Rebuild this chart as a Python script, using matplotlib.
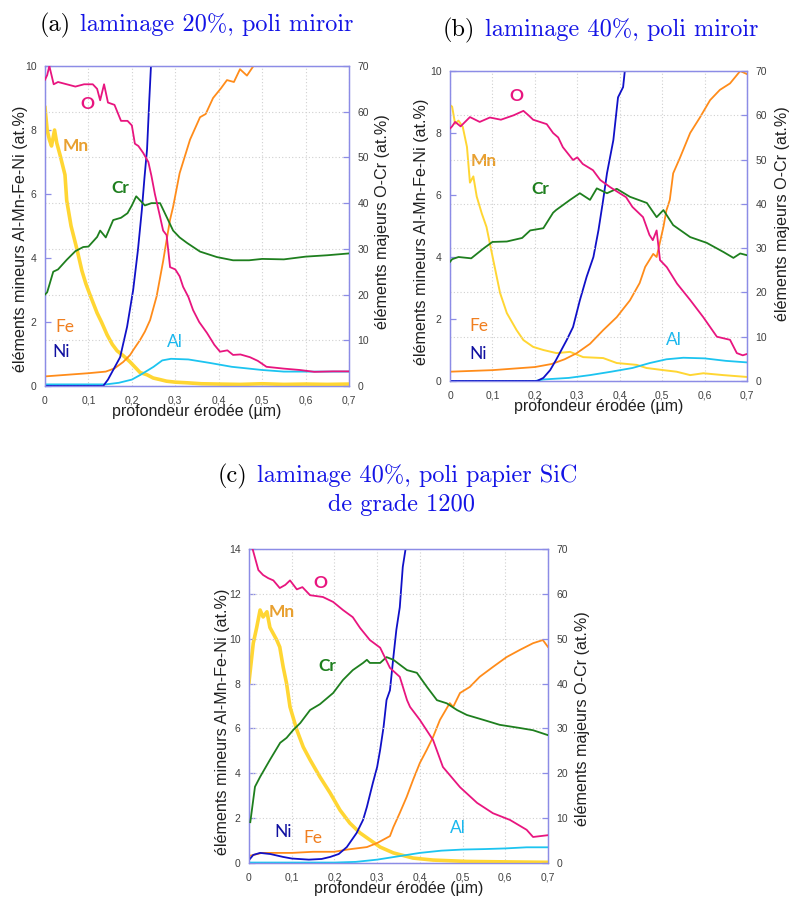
import matplotlib
matplotlib.use("Agg")
import matplotlib.pyplot as plt
from matplotlib.ticker import FuncFormatter, MultipleLocator

# ---------------- data: panel (a) laminage 20%, poli miroir ----------------
xa_O = [0, 0.005, 0.01, 0.02, 0.03, 0.05, 0.07, 0.09, 0.11, 0.12, 0.127, 0.136, 0.145, 0.16, 0.175, 0.19, 0.2, 0.207, 0.215, 0.226,
        0.238, 0.245, 0.253, 0.265, 0.272, 0.28, 0.288, 0.3, 0.31, 0.318, 0.33, 0.341, 0.355, 0.373, 0.39, 0.403, 0.42, 0.433, 0.45, 0.472,
        0.49, 0.51, 0.55, 0.587, 0.62, 0.663, 0.7]
ya_O = [67, 68, 70, 66, 66.5, 66, 65.5, 66, 66, 65, 62.5, 66, 62, 61.5, 58, 58, 57, 53, 52.5, 51,
        49, 46, 42, 37, 34, 33, 26, 25.5, 24, 21.7, 19.5, 16.6, 14, 11.6, 9, 7.5, 7.8, 6.8, 6.9, 6.3,
        5.5, 4.2, 3.8, 3.5, 3.1, 3.2, 3.2]
xa_Cr = [0, 0.005, 0.019, 0.03, 0.05, 0.07, 0.088, 0.1, 0.12, 0.127, 0.14, 0.157, 0.175, 0.19, 0.2, 0.21, 0.22, 0.23, 0.245, 0.265,
         0.28, 0.295, 0.31, 0.327, 0.357, 0.396, 0.433, 0.47, 0.5, 0.55, 0.6, 0.65, 0.7]
ya_Cr = [20, 20.5, 25, 25.5, 27.6, 29.5, 30.4, 30.5, 32.6, 34, 32.5, 36.3, 36.8, 37.8, 39.5, 41.5, 40.5, 39.5, 40, 40,
         37, 34, 32.5, 31.3, 29.4, 28.2, 27.5, 27.5, 27.8, 27.7, 28.3, 28.6, 29]
xa_Mn = [0, 0.005, 0.01, 0.015, 0.022, 0.027, 0.035, 0.046, 0.05, 0.06, 0.074, 0.085, 0.094, 0.105, 0.12, 0.13, 0.143, 0.155, 0.166, 0.18,
         0.196, 0.21, 0.219, 0.235, 0.249, 0.265, 0.28, 0.3, 0.327, 0.36, 0.4, 0.45, 0.5, 0.55, 0.6, 0.65, 0.7]
ya_Mn = [8.7, 8.0, 7.7, 7.5, 8.0, 7.6, 7.2, 6.6, 5.8, 5.0, 4.25, 3.6, 3.2, 2.8, 2.28, 2.0, 1.6, 1.3, 1.1, 0.95,
         0.75, 0.55, 0.42, 0.35, 0.25, 0.2, 0.15, 0.12, 0.1, 0.07, 0.06, 0.05, 0.07, 0.05, 0.06, 0.05, 0.06]
xa_Ni = [0, 0.134, 0.145, 0.157, 0.173, 0.189, 0.203, 0.214, 0.223, 0.229, 0.235, 0.24, 0.244, 0.25]
ya_Ni = [0, 0, 0.2, 0.5, 0.9, 1.85, 3.0, 4.25, 5.5, 6.5, 7.4, 8.9, 10.0, 11.5]
xa_Fe = [0, 0.05, 0.1, 0.14, 0.16, 0.18, 0.196, 0.203, 0.219, 0.23, 0.242, 0.257, 0.272, 0.28, 0.288, 0.295, 0.31, 0.334, 0.357, 0.37,
         0.387, 0.405, 0.419, 0.435, 0.449, 0.465, 0.48, 0.49]
ya_Fe = [0.3, 0.35, 0.4, 0.45, 0.55, 0.75, 0.97, 1.12, 1.44, 1.7, 2.06, 2.8, 3.9, 4.56, 5.2, 5.6, 6.65, 7.7, 8.4, 8.5,
         9.0, 9.3, 9.56, 9.5, 9.9, 9.7, 10.0, 10.2]
xa_Al = [0, 0.14, 0.17, 0.2, 0.22, 0.25, 0.27, 0.29, 0.33, 0.38, 0.43, 0.5, 0.55, 0.6, 0.65, 0.7]
ya_Al = [0.05, 0.05, 0.1, 0.2, 0.35, 0.6, 0.8, 0.85, 0.83, 0.72, 0.6, 0.5, 0.45, 0.45, 0.45, 0.45]

# ---------------- data: panel (b) laminage 40%, poli miroir ----------------
xb_O = [0, 0.005, 0.012, 0.025, 0.047, 0.07, 0.094, 0.12, 0.15, 0.173, 0.185, 0.196, 0.228, 0.243, 0.255, 0.266, 0.29, 0.3, 0.313, 0.337,
        0.354, 0.377, 0.4, 0.415, 0.43, 0.455, 0.47, 0.478, 0.487, 0.495, 0.511, 0.535, 0.566, 0.597, 0.629, 0.66, 0.676, 0.69, 0.7]
yb_O = [57, 57.5, 58.5, 57.5, 59.6, 58.5, 59.5, 59, 60, 61, 60, 59, 58, 56, 55, 52.8, 49.9, 50.5, 49, 47.6,
        45.4, 43.8, 42.4, 41.5, 39.3, 37, 33, 31.8, 34, 27.3, 25.7, 22, 18.3, 14.4, 10, 9.3, 6.3, 5.8, 6.1]
xb_Cr = [0, 0.005, 0.02, 0.05, 0.08, 0.1, 0.134, 0.17, 0.189, 0.22, 0.243, 0.25, 0.283, 0.306, 0.33, 0.346, 0.37, 0.393, 0.424, 0.464,
         0.487, 0.503, 0.526, 0.566, 0.605, 0.645, 0.668, 0.684, 0.7]
yb_Cr = [26.9, 27.5, 28, 27.7, 30, 31.4, 31.5, 32.3, 34, 34.5, 38, 38.6, 40.9, 42.4, 40.9, 43.5, 42.4, 43.4, 41.6, 40.2,
         37, 38.6, 35.2, 32.5, 31.2, 29.1, 27.8, 28.8, 28.4]
xb_Mn = [0, 0.005, 0.012, 0.02, 0.03, 0.04, 0.047, 0.055, 0.063, 0.075, 0.086, 0.102, 0.118, 0.134, 0.157, 0.173, 0.196, 0.22, 0.251, 0.283,
         0.314, 0.361, 0.393, 0.44, 0.463, 0.503, 0.534, 0.566, 0.597, 0.644, 0.7]
yb_Mn = [8.9, 8.85, 8.3, 8.4, 8.2, 7.55, 6.4, 6.6, 5.95, 5.4, 4.97, 3.9, 2.84, 2.19, 1.64, 1.32, 1.1, 1.0, 0.9, 0.94,
         0.77, 0.74, 0.58, 0.52, 0.42, 0.35, 0.3, 0.19, 0.25, 0.19, 0.13]
xb_Ni = [0, 0.205, 0.22, 0.236, 0.25, 0.275, 0.29, 0.306, 0.322, 0.338, 0.35, 0.361, 0.37, 0.385, 0.396, 0.408, 0.412, 0.42]
yb_Ni = [0, 0, 0.1, 0.35, 0.68, 1.32, 1.74, 2.6, 3.36, 4.0, 4.87, 5.84, 6.7, 7.77, 9.15, 9.48, 10.0, 11.0]
xb_Fe = [0, 0.1, 0.15, 0.2, 0.24, 0.27, 0.299, 0.33, 0.361, 0.393, 0.424, 0.447, 0.46, 0.479, 0.487, 0.503, 0.51, 0.518, 0.526, 0.542,
         0.566, 0.589, 0.613, 0.636, 0.66, 0.684, 0.7]
yb_Fe = [0.3, 0.35, 0.4, 0.45, 0.55, 0.7, 0.9, 1.2, 1.64, 2.06, 2.6, 3.16, 3.68, 4.1, 4.0, 4.97, 5.5, 5.84, 6.7, 7.2,
         8.0, 8.5, 9.06, 9.39, 9.6, 10.0, 9.9]
xb_Al = [0, 0.2, 0.22, 0.28, 0.33, 0.38, 0.43, 0.471, 0.51, 0.55, 0.6, 0.65, 0.7]
yb_Al = [0, 0, 0.05, 0.1, 0.19, 0.3, 0.42, 0.58, 0.7, 0.75, 0.73, 0.65, 0.6]

# ---------------- data: panel (c) laminage 40%, poli papier SiC ----------------
xc_O = [0.0, 0.009, 0.022, 0.033, 0.045, 0.057, 0.072, 0.085, 0.096, 0.112, 0.125, 0.143, 0.173, 0.197, 0.22, 0.243, 0.26, 0.283, 0.307, 0.33,
        0.353, 0.37, 0.377, 0.4, 0.431, 0.454, 0.494, 0.534, 0.571, 0.611, 0.65, 0.665, 0.7]
yc_O = [72, 69.8, 65.3, 64.2, 63.5, 63, 61.3, 62, 63, 61, 61.5, 59.7, 59.3, 58.2, 56.4, 54.8, 52.4, 49.7, 48, 43.5,
        41.5, 36.3, 34.8, 31.9, 27.4, 21.4, 16.9, 13.4, 11.1, 9.6, 7.4, 5.8, 6.2]
xc_Cr = [0.003, 0.014, 0.026, 0.049, 0.073, 0.088, 0.104, 0.12, 0.143, 0.166, 0.197, 0.22, 0.243, 0.267, 0.276, 0.283, 0.307, 0.322, 0.338, 0.37,
         0.393, 0.417, 0.44, 0.463, 0.487, 0.51, 0.549, 0.587, 0.634, 0.665, 0.7]
yc_Cr = [9.1, 17, 19.2, 23, 26.8, 27.9, 29.7, 31.2, 34.1, 35.4, 37.9, 40.8, 43, 44.6, 45.3, 44.6, 44.6, 45.9, 45.3, 43,
         42.4, 39.2, 36.3, 35.6, 34.1, 33, 31.9, 30.8, 30.1, 29.6, 28.5]
xc_Mn = [0.0, 0.01, 0.018, 0.026, 0.033, 0.042, 0.049, 0.065, 0.072, 0.08, 0.088, 0.096, 0.112, 0.127, 0.143, 0.166, 0.19, 0.213, 0.236, 0.26,
         0.283, 0.307, 0.338, 0.384, 0.431, 0.51, 0.6, 0.7]
yc_Mn = [8.07, 9.8, 10.5, 11.28, 10.97, 11.2, 10.5, 9.94, 9.63, 8.74, 8.0, 6.96, 5.93, 5.17, 4.6, 3.84, 3.12, 2.36, 1.78, 1.34,
         1.03, 0.71, 0.45, 0.22, 0.13, 0.07, 0.05, 0.03]
xc_Ni = [0.0, 0.01, 0.026, 0.05, 0.08, 0.1, 0.14, 0.17, 0.19, 0.21, 0.229, 0.252, 0.267, 0.276, 0.29, 0.3, 0.307, 0.315, 0.322, 0.33,
         0.338, 0.345, 0.353, 0.36, 0.369]
yc_Ni = [0.13, 0.36, 0.45, 0.4, 0.27, 0.2, 0.15, 0.18, 0.27, 0.4, 0.71, 1.34, 1.92, 2.5, 3.57, 4.28, 5.04, 6.06, 7.27, 7.7,
         9.18, 10.4, 11.4, 13.2, 14.3]
xc_Fe = [0.0, 0.03, 0.1, 0.15, 0.2, 0.23, 0.276, 0.3, 0.33, 0.338, 0.353, 0.369, 0.384, 0.4, 0.416, 0.431, 0.447, 0.47, 0.478, 0.494,
         0.517, 0.54, 0.571, 0.603, 0.634, 0.665, 0.688, 0.7]
yc_Fe = [0.31, 0.45, 0.45, 0.5, 0.5, 0.6, 0.71, 0.89, 1.2, 1.6, 2.23, 2.94, 3.7, 4.46, 5.04, 5.62, 6.38, 7.13, 6.96, 7.58,
         7.85, 8.3, 8.74, 9.18, 9.5, 9.8, 9.94, 9.63]
xc_Al = [0, 0.2, 0.25, 0.3, 0.35, 0.4, 0.45, 0.5, 0.55, 0.6, 0.65, 0.7]
yc_Al = [0.02, 0.02, 0.05, 0.15, 0.3, 0.45, 0.55, 0.6, 0.62, 0.65, 0.7, 0.7]

left_max = {"a": 10, "b": 10, "c": 14}
xlabel_text = "profondeur érodée (µm)"
ylabel_left = "éléments mineurs Al-Mn-Fe-Ni (at.%)"
ylabel_right = "éléments majeurs O-Cr (at.%)"

# ---------------- styling ----------------
W, H = 789, 897
C = {"O": "#E8157F", "Cr": "#1E7F1E", "Mn": "#FFD633", "Ni": "#1010C8",
     "Fe": "#FF8C1A", "Al": "#1CC4F0"}
LABEL_C = {"O": "#E8157F", "Cr": "#1E7F1E", "Mn": "#E8A030", "Ni": "#1010A0",
           "Fe": "#F07F20", "Al": "#1CB8EE"}
SPINE = "#8C8CE6"
SANS = ["Liberation Sans", "DejaVu Sans"]
ELT = ["Lato", "DejaVu Sans"]

fig = plt.figure(figsize=(W / 100, H / 100), dpi=100)


def px_rect(l, t, r, b):
    return [l / W, 1 - b / H, (r - l) / W, (b - t) / H]


comma = FuncFormatter(lambda v, p: ("%g" % round(v, 3)).replace(".", ","))


def panel(rect, key, left_series, right_series, mn_lw, labels, ylab_left, ylab_right):
    ax = fig.add_axes(px_rect(*rect))
    ax2 = ax.twinx()
    ymax = left_max[key]
    for name, xs, ys in left_series:
        lw = mn_lw if name == "Mn" else 1.3
        ax.plot(xs, ys, color=C[name], lw=lw, solid_joinstyle="round", zorder=3)
    for name, xs, ys in right_series:
        ax2.plot(xs, ys, color=C[name], lw=1.3, solid_joinstyle="round", zorder=3)
    ax.set_xlim(0, 0.7)
    ax.set_ylim(0, ymax)
    ax2.set_ylim(0, 70)
    ax.xaxis.set_major_locator(MultipleLocator(0.1))
    ax.yaxis.set_major_locator(MultipleLocator(2))
    ax2.yaxis.set_major_locator(MultipleLocator(10))
    ax.xaxis.set_major_formatter(comma)
    ax.grid(True, axis="x", color="#d0d0d0", ls=(0, (1, 2)), lw=0.8)
    ax2.grid(True, axis="y", color="#d0d0d0", ls=(0, (1, 2)), lw=0.8)
    ax.set_axisbelow(True)
    for a in (ax, ax2):
        for s in a.spines.values():
            s.set_color(SPINE)
            s.set_linewidth(0.9)
        a.tick_params(direction="in", length=4, width=0.9, color=SPINE,
                      labelsize=7.5, labelcolor="#404040", pad=6)
        for t in a.get_xticklabels() + a.get_yticklabels():
            t.set_fontfamily(SANS)
    ax.tick_params(axis="x", length=0, pad=7)
    ax.set_xlabel(xlabel_text, fontsize=11.5, family=SANS, color="#202020", labelpad=-1)
    fig.text(ylab_left[0] / W, 1 - ylab_left[1] / H, ylabel_left, rotation=90,
             ha="center", va="center", fontsize=11.6, family=SANS, color="#202020")
    fig.text(ylab_right[0] / W, 1 - ylab_right[1] / H, ylabel_right, rotation=90,
             ha="center", va="center", fontsize=11.6, family=SANS, color="#202020")
    for name, (lx, ly), bold in labels:
        ax.text(lx, ly, name, color=LABEL_C[name], fontsize=12.5, family=ELT,
                fontweight="bold" if bold else "normal", ha="center", va="center", zorder=5)
    return ax


panel((45, 66, 349, 386), "a",
      [("Mn", xa_Mn, ya_Mn), ("Al", xa_Al, ya_Al), ("Fe", xa_Fe, ya_Fe), ("Ni", xa_Ni, ya_Ni)],
      [("Cr", xa_Cr, ya_Cr), ("O", xa_O, ya_O)], 2.6,
      [("O", (0.097, 8.8), True), ("Mn", (0.07, 7.5), True), ("Cr", (0.173, 6.2), True),
       ("Fe", (0.046, 1.84), False), ("Ni", (0.037, 1.06), False), ("Al", (0.3, 1.37), False)],
      (21, 239), (382, 222))

panel((450, 71, 747, 381), "b",
      [("Mn", xb_Mn, yb_Mn), ("Al", xb_Al, yb_Al), ("Fe", xb_Fe, yb_Fe), ("Ni", xb_Ni, yb_Ni)],
      [("Cr", xb_Cr, yb_Cr), ("O", xb_O, yb_O)], 1.4,
      [("O", (0.156, 9.2), True), ("Mn", (0.08, 7.1), True), ("Cr", (0.214, 6.2), True),
       ("Fe", (0.068, 1.77), False), ("Ni", (0.066, 0.87), False), ("Al", (0.528, 1.32), False)],
      (421, 232), (782, 214))

panel((249, 549, 548, 863), "c",
      [("Mn", xc_Mn, yc_Mn), ("Al", xc_Al, yc_Al), ("Fe", xc_Fe, yc_Fe), ("Ni", xc_Ni, yc_Ni)],
      [("Cr", xc_Cr, yc_Cr), ("O", xc_O, yc_O)], 2.6,
      [("O", (0.166, 12.5), True), ("Mn", (0.077, 11.2), True), ("Cr", (0.183, 8.8), True),
       ("Ni", (0.08, 1.38), False), ("Fe", (0.15, 1.1), False), ("Al", (0.49, 1.56), False)],
      (223, 722), (582, 719))

# ---------------- titles ----------------
SERIF = ["cmr10", "DejaVu Serif"]
TS = 17.5


def title(xk, xb, y, k, txt):
    fig.text(xk / W, 1 - y / H, k, color="black", fontsize=TS, family=SERIF, ha="left", va="center")
    fig.text(xb / W, 1 - y / H, txt, color="#1414E6", fontsize=TS, family=SERIF, ha="left", va="center")


title(40, 80, 25, "(a)", "laminage 20%, poli miroir")
title(443, 485, 30, "(b)", "laminage 40%, poli miroir")
title(218, 257, 476, "(c)", "laminage 40%, poli papier SiC")
fig.text(402 / W, 1 - 505 / H, "de grade 1200", color="#1414E6", fontsize=TS, family=SERIF,
         ha="center", va="center")

fig.savefig("out.png", dpi=100)
